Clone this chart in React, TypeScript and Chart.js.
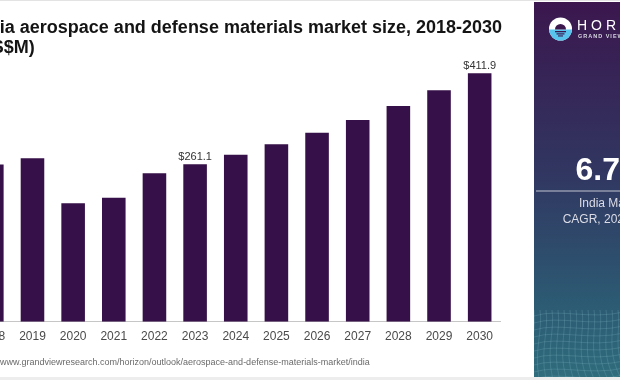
import React, { useEffect, useRef } from "react";
import { Chart, registerables } from "chart.js";

Chart.register(...registerables);

const years = ["2018", "2019", "2020", "2021", "2022", "2023", "2024", "2025", "2026", "2027", "2028", "2029", "2030"];
const marketSize = [260.5, 270.9, 196.3, 205.6, 246.1, 261.1, 276.9, 294.1, 313.4, 334.4, 357.6, 383.7, 411.9];
const labelledYears = ["2023", "2030"];
const titleLines = ["India aerospace and defense materials market size, 2018-2030", "(US$M)"];
const sourceText = "www.grandviewresearch.com/horizon/outlook/aerospace-and-defense-materials-market/india";
const cagrValue = "6.7%";
const cagrLines = ["India Market", "CAGR, 2024-2030"];
const brandName = "HORIZON";
const brandSub = "GRAND VIEW RESEARCH";

const FONT = "Arial, 'Liberation Sans', Helvetica, sans-serif";
const SHIFT = 40; // canvas x = page x + SHIFT

const decorPlugin = {
  id: "decor",
  afterDraw(chart: any) {
    const ctx = chart.ctx as CanvasRenderingContext2D;
    ctx.save();
    // frame lines
    ctx.fillStyle = "#e3e3e3";
    ctx.fillRect(0, 0, 700, 1);
    ctx.fillStyle = "#ededed";
    ctx.fillRect(0, 377, 700, 3);

    // title
    ctx.fillStyle = "#141414";
    ctx.font = `bold 18px ${FONT}`;
    ctx.textAlign = "left";
    ctx.textBaseline = "alphabetic";
    ctx.fillText(titleLines[0], 12.8, 32.5);
    ctx.fillText(titleLines[1], 12.8, 53);

    // source
    ctx.fillStyle = "#6a6a6a";
    ctx.font = `9px ${FONT}`;
    ctx.fillText(sourceText, SHIFT, 365);

    // value labels
    const meta = chart.getDatasetMeta(0);
    ctx.fillStyle = "#333";
    ctx.font = `11px ${FONT}`;
    ctx.textAlign = "center";
    labelledYears.forEach((yr) => {
      const i = years.indexOf(yr);
      const el = meta.data[i];
      if (!el) return;
      ctx.fillText("$" + marketSize[i].toFixed(1), el.x, el.y - 4.5);
    });

    // side panel
    const px = 534 + SHIFT;
    const top = 2, bottom = 377;
    const g = ctx.createLinearGradient(0, top, 0, bottom);
    g.addColorStop(0, "#3b174e");
    g.addColorStop(0.45, "#313661");
    g.addColorStop(0.8, "#2c5a73");
    g.addColorStop(1, "#2f6c7c");
    ctx.fillStyle = g;
    ctx.fillRect(px, top, 200, bottom - top);

    // wireframe decoration
    ctx.save();
    ctx.beginPath();
    ctx.rect(px, top, 200, bottom - top);
    ctx.clip();
    ctx.strokeStyle = "rgba(160,215,225,0.25)";
    ctx.lineWidth = 0.7;
    for (let j = 0; j < 10; j++) {
      const y0 = 312 + j * 7;
      ctx.beginPath();
      ctx.moveTo(px, y0 + 4);
      ctx.bezierCurveTo(px + 25, y0 - 4, px + 55, y0 + 8, px + 90, y0);
      ctx.stroke();
    }
    for (let i = 0; i < 16; i++) {
      const x0 = px + i * 6;
      ctx.beginPath();
      ctx.moveTo(x0, 310);
      ctx.bezierCurveTo(x0 + 3, 330, x0 - 6, 350, x0 - 2 + i * 0.8, 377);
      ctx.stroke();
    }
    ctx.restore();

    // logo
    const cx = 560.5 + SHIFT, cy = 29, r = 11.5;
    ctx.beginPath();
    ctx.arc(cx, cy, r, 0, Math.PI * 2);
    ctx.fillStyle = "#ffffff";
    ctx.fill();
    ctx.save();
    ctx.beginPath();
    ctx.arc(cx, cy, r, 0, Math.PI * 2);
    ctx.clip();
    ctx.fillStyle = "#58c4ee";
    ctx.fillRect(cx - r, cy + 0.5, 2 * r, r);
    ctx.restore();
    ctx.fillStyle = "#3b174e";
    ctx.beginPath();
    ctx.arc(cx, cy + 0.5, 5.5, Math.PI, 0);
    ctx.fill();
    ctx.fillRect(cx - 5.5, cy + 2, 11, 1.3);
    ctx.fillRect(cx - 4, cy + 4.3, 8, 1.2);
    ctx.fillRect(cx - 2.5, cy + 6.4, 5, 1.1);

    ctx.fillStyle = "#ffffff";
    ctx.textAlign = "left";
    ctx.font = `14px ${FONT}`;
    (ctx as any).letterSpacing = "4px";
    ctx.fillText(brandName, 577 + SHIFT, 30);
    ctx.fillStyle = "#d8d8e2";
    ctx.font = `bold 5.5px ${FONT}`;
    (ctx as any).letterSpacing = "1px";
    ctx.fillText(brandSub, 578 + SHIFT, 37.5);
    (ctx as any).letterSpacing = "0px";

    // CAGR block
    const ccx = 612 + SHIFT;
    ctx.textAlign = "center";
    ctx.fillStyle = "#ffffff";
    ctx.font = `bold 32px ${FONT}`;
    ctx.fillText(cagrValue, ccx, 180);
    ctx.fillStyle = "rgba(255,255,255,0.7)";
    ctx.fillRect(px + 2, 190.5, 200, 1);
    ctx.fillStyle = "#dcdce6";
    ctx.font = `12px ${FONT}`;
    ctx.fillText(cagrLines[0], ccx, 207);
    ctx.fillText(cagrLines[1], ccx, 223);

    ctx.restore();
  },
};

export default function App() {
  const ref = useRef<HTMLCanvasElement | null>(null);
  useEffect(() => {
    if (!ref.current) return;
    const chart = new Chart(ref.current, {
      type: "bar",
      data: {
        labels: years,
        datasets: [
          {
            data: marketSize,
            backgroundColor: "#361048",
            borderWidth: 0,
            barPercentage: 0.58,
            categoryPercentage: 1,
          },
        ],
      },
      options: {
        animation: false,
        responsive: false,
        maintainAspectRatio: false,
        devicePixelRatio: 1,
        layout: { padding: { left: 11.5, right: 120, top: 50.3, bottom: 28.3 } },
        plugins: {
          legend: { display: false },
          title: { display: false },
          tooltip: { enabled: false },
        },
        scales: {
          x: {
            grid: { display: false, drawTicks: false },
            border: { display: true, color: "#c6c6c6", width: 1 },
            ticks: {
              color: "#4a4a4a",
              font: { size: 12, family: FONT },
              padding: 8,
              autoSkip: false,
              maxRotation: 0,
            },
            afterFit: (scale: any) => {
              scale.height = 30;
            },
          },
          y: {
            display: false,
            min: 0,
            max: 450,
          },
        },
      },
      plugins: [decorPlugin],
    });
    return () => chart.destroy();
  }, []);

  return (
    <div style={{ position: "fixed", left: -SHIFT, top: 0, width: 660, height: 380, background: "#fff" }}>
      <canvas ref={ref} width={660} height={380} style={{ display: "block", width: 660, height: 380 }} />
    </div>
  );
}
